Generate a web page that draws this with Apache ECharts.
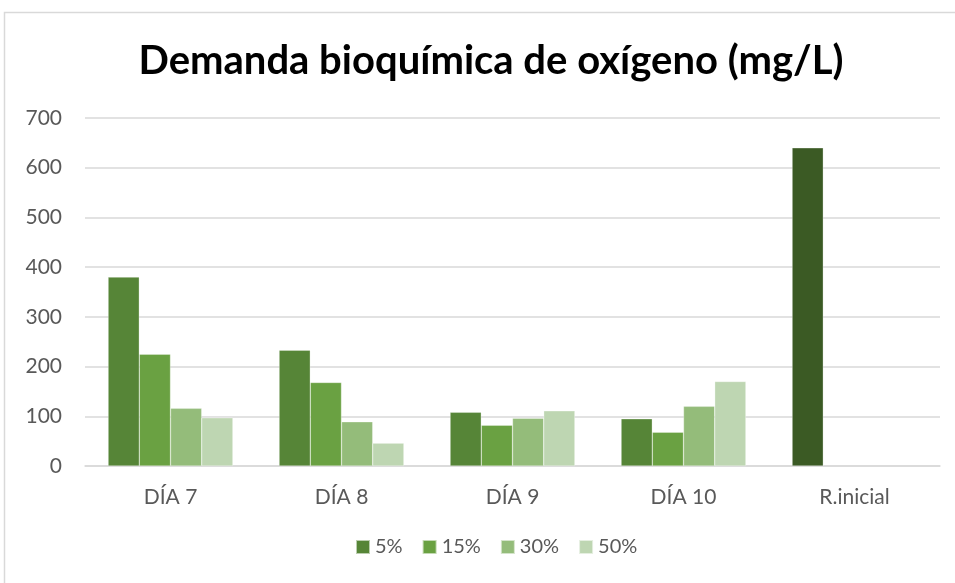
<!DOCTYPE html>
<html>
<head>
<meta charset="utf-8">
<script src="https://cdn.jsdelivr.net/npm/echarts@6/dist/echarts.min.js"></script>
<style>
  html, body { margin: 0; padding: 0; background: #fff; }
  #chart { width: 955px; height: 583px; }
</style>
</head>
<body>
<div id="chart"></div>
<script>
var categories = ['DÍA 7', 'DÍA 8', 'DÍA 9', 'DÍA 10', 'R.inicial'];
var seriesNames = ['5%', '15%', '30%', '50%'];
var v5 = [380, 233, 108, 95, 640];
var v15 = [225, 168, 82, 68, null];
var v30 = [116, 89, 96, 120, null];
var v50 = [97, 46, 111, 170, null];
var colors = ['#568537', '#6aa142', '#94bc7a', '#bed6b2'];
var baseColor = '#3b5a24';

var myChart = echarts.init(document.getElementById('chart'));
var font = 'Lato, "Open Sans", sans-serif';

function bar(name, data, i) {
    return {
        name: name,
        type: 'bar',
        barGap: '0%',
        barCategoryGap: '27%',
        itemStyle: { color: colors[i], borderColor: 'rgba(255,255,255,0.6)', borderWidth: 0.5 },
        data: data
    };
}

// the R.inicial bar has its own darker colour
var d5 = v5.map(function (v, i) {
    return i === 4 ? { value: v, itemStyle: { color: baseColor } } : v;
});

var option = {
    animation: false,
    color: colors,
    graphic: [{
        type: 'rect',
        shape: { x: 4.5, y: 12.5, width: 1000, height: 1000 },
        style: { fill: 'none', stroke: '#d9d9d9', lineWidth: 1.5 },
        silent: true
    }],
    title: {
        text: 'Demanda bioquímica de oxígeno (mg/L)',
        left: 486,
        textAlign: 'center',
        top: 36,
        textStyle: { fontFamily: font, fontSize: 40, fontWeight: 'bold', color: '#000' }
    },
    legend: {
        data: seriesNames,
        bottom: 21,
        left: 350,
        itemWidth: 14,
        itemHeight: 14,
        itemGap: 19,
        icon: 'rect',
        textStyle: { fontFamily: font, fontSize: 20, color: '#595959' }
    },
    grid: { left: 85, right: 15, top: 118, bottom: 117 },
    xAxis: {
        type: 'category',
        data: categories,
        axisTick: { show: false },
        axisLine: { lineStyle: { color: '#d9d9d9', width: 1.5 } },
        axisLabel: { fontFamily: font, fontSize: 21, color: '#595959', margin: 21 }
    },
    yAxis: {
        type: 'value',
        min: 0,
        max: 700,
        interval: 100,
        axisLine: { show: false },
        axisTick: { show: false },
        splitLine: { lineStyle: { color: '#d9d9d9', width: 1.5 } },
        axisLabel: { fontFamily: font, fontSize: 21, color: '#595959', margin: 23 }
    },
    series: [
        bar(seriesNames[0], d5, 0),
        bar(seriesNames[1], v15, 1),
        bar(seriesNames[2], v30, 2),
        bar(seriesNames[3], v50, 3)
    ]
};

myChart.setOption(option);
</script>
</body>
</html>
